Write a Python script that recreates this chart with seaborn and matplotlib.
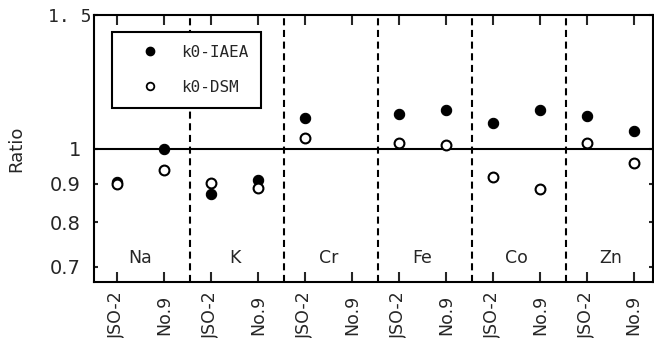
import numpy as np
import pandas as pd
import matplotlib
matplotlib.use("Agg")
import matplotlib.pyplot as plt
from matplotlib.lines import Line2D
from matplotlib.ticker import FixedLocator, NullLocator
import seaborn as sns

# Elements and the two reference materials measured for each
elements = ["Na", "K", "Cr", "Fe", "Co", "Zn"]
samples = ["JSO-2", "No.9"]

# Ratio of determined to certified value, one entry per (element, sample)
k0_iaea = [0.905, 1.000, 0.872, 0.909, 1.097, np.nan,
           1.112, 1.126, 1.081, 1.126, 1.106, 1.055]
k0_dsm = [0.898, 0.937, 0.901, 0.889, 1.033, np.nan,
          1.019, 1.011, 0.917, 0.885, 1.019, 0.958]

y_ticks = [0.7, 0.8, 0.9, 1.0, 1.5]
y_tick_labels = ["0.7", "0.8", "0.9", "1", "1. 5"]

sns.set_style("ticks")
plt.rcParams["font.family"] = ["DejaVu Sans"]

x_labels = [s for _ in elements for s in samples]
pos = np.arange(len(x_labels))
df = pd.DataFrame({
    "pos": pos,
    "element": np.repeat(elements, len(samples)),
    "sample": x_labels,
    "k0-IAEA": k0_iaea,
    "k0-DSM": k0_dsm,
})

fig = plt.figure(figsize=(6.54, 3.38), dpi=100)
ax = fig.add_axes([0.143, 0.1657, 0.8562, 0.7899])

ax.set_yscale("log")
ax.set_ylim(0.668, 1.5)
ax.set_xlim(-0.5, 11.42)

# reference line at ratio 1 and dashed separators between elements
ax.axhline(1.0, color="black", lw=1.5, zorder=1)
for k in range(1, len(elements)):
    ax.axvline(2 * k - 0.45, color="black", lw=1.5, ls=(0, (3.4, 2.2)), zorder=1)

sns.scatterplot(data=df, x="pos", y="k0-IAEA", ax=ax, color="black",
                edgecolor="black", s=55, linewidth=0.8, zorder=3, legend=False)
sns.scatterplot(data=df, x="pos", y="k0-DSM", ax=ax, color="white",
                edgecolor="black", s=50, linewidth=1.5, zorder=4, legend=False)

# element names inside each panel
for i, el in enumerate(elements):
    ax.text(2 * i + 0.5, 0.09, el, transform=ax.get_xaxis_transform(),
            ha="center", va="center", fontsize=12.5)

ax.set_xticks(pos)
ax.set_xticklabels(x_labels, rotation=90, fontsize=12.5)
for lab in ax.get_xticklabels():
    lab.set_va("center")
ax.yaxis.set_major_locator(FixedLocator(y_ticks))
ax.yaxis.set_minor_locator(NullLocator())
ax.set_yticklabels(y_tick_labels, fontsize=14)
ax.set_xlabel("")
ax.set_ylabel("Ratio", fontsize=13)
ax.yaxis.set_label_coords(-0.122, 0.5)

ax.tick_params(axis="x", which="major", direction="in", length=7, width=1.5,
               top=True, bottom=True, pad=23.5)
ax.tick_params(axis="y", which="major", direction="in", length=3, width=1.5,
               left=True, right=True, pad=9)

top_lab = ax.yaxis.get_major_ticks()[-1].label1
top_lab.set_fontfamily(["DejaVu Sans Mono"])
top_lab.set_fontsize(13)
top_lab.set_x(0.018)
top_lab.set_va("center_baseline")

for side in ["left", "right", "top", "bottom"]:
    ax.spines[side].set_visible(True)
    ax.spines[side].set_linewidth(1.5)
    ax.spines[side].set_color("black")

handles = [
    Line2D([], [], ls="none", marker="o", markersize=6, color="black",
           markerfacecolor="black"),
    Line2D([], [], ls="none", marker="o", markersize=5.5, color="black",
           markerfacecolor="white", markeredgewidth=1.3),
]
leg = ax.legend(handles, ["k0-IAEA", "k0-DSM"], loc="upper left",
                bbox_to_anchor=(0.033, 0.936), borderaxespad=0,
                prop={"family": "DejaVu Sans Mono", "size": 11.5},
                frameon=True, fancybox=False, edgecolor="black",
                framealpha=1, borderpad=0.8, handlelength=3.1,
                handletextpad=0.4, labelspacing=1.25)
leg.get_frame().set_linewidth(1.5)

fig.savefig("out.png", dpi=100)
